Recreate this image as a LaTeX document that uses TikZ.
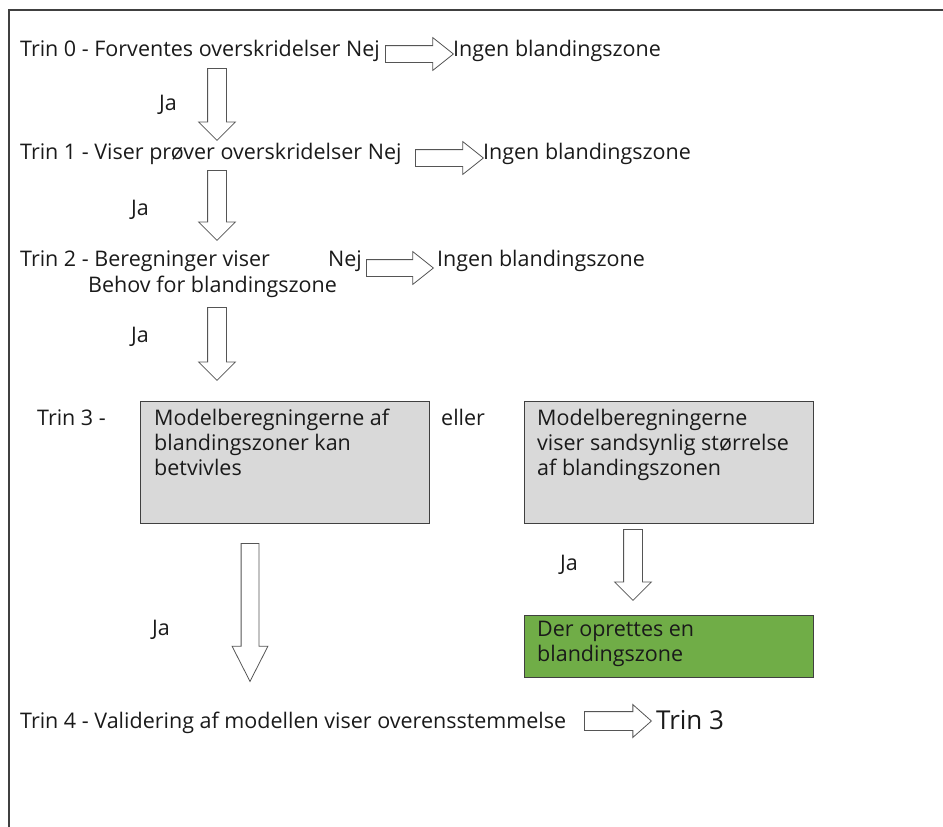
\documentclass[tikz,border=0pt]{standalone}
\usepackage{fontspec}
\setmainfont{Open Sans}
\usetikzlibrary{shapes.arrows,positioning}

\definecolor{boxgray}{HTML}{D9D9D9}
\definecolor{boxgreen}{HTML}{70AD47}
\definecolor{framegray}{HTML}{404040}
\definecolor{arrowgray}{HTML}{555555}
\definecolor{textblack}{HTML}{1A1A1A}

\begin{document}
\begin{tikzpicture}[
  x=1pt, y=-1pt,
  txt/.style={anchor=base west, inner sep=0pt, text=textblack,
              font=\fontsize{21.5}{25}\selectfont},
  box/.style={rectangle, draw=framegray, line width=1.2pt, fill=#1,
              minimum width=289pt, minimum height=122pt,
              anchor=north west, inner sep=0pt},
  box/.default={boxgray},
  boxtext/.style={txt, align=left},
  harrow/.style={single arrow, draw=arrowgray, fill=white, line width=0.8pt,
                 minimum height=#1, text height=16pt, text depth=0pt,
                 single arrow head extend=8pt, single arrow tip angle=77,
                 inner sep=0pt, anchor=tail},
  varrow/.style={harrow=#1, rotate=-90, text height=18pt,
                 single arrow head extend=9pt, single arrow tip angle=90}
]
  \useasboundingbox (0,0) rectangle (943,827);
  % frame
  \draw[framegray, line width=1.2pt] (9,827) -- (9,10) -- (943,10);

  % Trin 0
  \node[txt] (trin0) at (20,56) {Trin 0 - Forventes overskridelser Nej};
  \node[harrow=68pt] (nej0) at (385,54) {};
  \node[txt] (ingen0) at (453,56) {Ingen blandingszone};
  \node[varrow=72pt] (ja0) at (217,68) {};
  \node[txt] (ja0txt) at (159,110) {Ja};

  % Trin 1
  \node[txt] (trin1) at (20,159) {Trin 1 - Viser prøver overskridelser Nej};
  \node[harrow=68pt] (nej1) at (415,158) {};
  \node[txt] (ingen1) at (483,159) {Ingen blandingszone};
  \node[varrow=70pt] (ja1) at (217,170) {};
  \node[txt] (ja1txt) at (131,215) {Ja};

  % Trin 2
  \node[txt] (trin2) at (20,266) {Trin 2 - Beregninger viser};
  \node[txt] (trin2b) at (88,292) {Behov for blandingszone};
  \node[txt] (nej2txt) at (328,266) {Nej};
  \node[harrow=67pt] (nej2) at (366,268) {};
  \node[txt] (ingen2) at (437,266) {Ingen blandingszone};
  \node[varrow=73pt] (ja2) at (217,307) {};
  \node[txt] (ja2txt) at (131,342) {Ja};

  % Trin 3
  \node[txt] (trin3) at (37,425) {Trin 3 -};
  \node[box] (model1) at (140,401) {};
  \node[boxtext] (model1txt) at (154,475)
    {Modelberegningerne af\\blandingszoner kan\\betvivles};
  \node[txt] (eller) at (441,425) {eller};
  \node[box] (model2) at (524,401) {};
  \node[boxtext] (model2txt) at (537,475)
    {Modelberegningerne\\viser sandsynlig størrelse\\af blandingszonen};

  \node[varrow=71pt] (ja3) at (633,529) {};
  \node[txt] (ja3txt) at (560,570) {Ja};
  \node[box=boxgreen, minimum height=62pt] (zone) at (524,615) {};
  \node[boxtext] (zonetxt) at (537,661)
    {Der oprettes en\\blandingszone};

  \node[varrow=138pt, text height=17pt, single arrow tip angle=54] (ja4) at (250,543) {};
  \node[txt] (ja4txt) at (152,635) {Ja};

  % Trin 4
  \node[txt] (trin4) at (20,728) {Trin 4 - Validering af modellen viser overensstemmelse};
  \node[harrow=67pt, text height=18pt, single arrow head extend=7pt,
        single arrow tip angle=83] (val) at (584,721) {};
  \node[txt, font=\fontsize{26}{29}\selectfont] (trin3ref) at (656,729) {Trin 3};
\end{tikzpicture}
\end{document}
